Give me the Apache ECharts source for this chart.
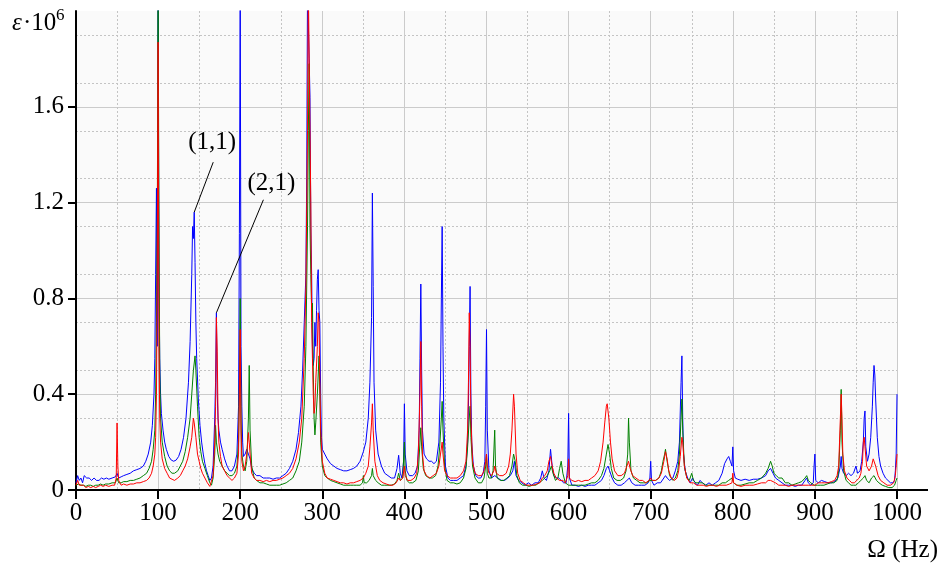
<!DOCTYPE html>
<html><head><meta charset="utf-8">
<script src="https://cdn.jsdelivr.net/npm/echarts@6/dist/echarts.min.js"></script>
<style>html,body{margin:0;padding:0;background:#fff}#c{width:941px;height:568px}</style>
</head><body><div id="c"></div>
<script>
// [frequency Hz, strain ×1e6]
const blueData = [[0,0.03],[2,0.06],[4,0.04],[6,0.05],[8,0.03],[10,0.06],[13,0.05],[16,0.05],[19,0.04],[22,0.05],[25,0.04],[28,0.04],[31,0.05],[34,0.045],[37,0.05],[40,0.045],[44,0.05],[48,0.055],[50,0.07],[52,0.05],[55,0.055],[58,0.06],[62,0.065],[66,0.07],[70,0.08],[74,0.085],[78,0.09],[82,0.1],[85,0.12],[88,0.15],[91,0.2],[93,0.27],[95,0.4],[96,0.55],[97,0.9],[98,1.26],[99,0.6],[100,2.1],[100.6,2.1],[101,0.9],[102,0.55],[103,0.4],[104,0.32],[106,0.25],[108,0.2],[110,0.17],[113,0.14],[116,0.125],[119,0.12],[122,0.125],[125,0.14],[128,0.17],[131,0.22],[134,0.3],[137,0.45],[139,0.62],[141,0.9],[142,1.1],[143,1.05],[144,1.16],[145,0.95],[146,0.7],[147,0.55],[149,0.38],[151,0.27],[153,0.2],[155,0.15],[157,0.11],[159,0.08],[161,0.06],[163,0.04],[165,0.05],[167,0.1],[169,0.3],[170,0.45],[171,0.74],[172,0.4],[173,0.3],[174,0.25],[176,0.2],[178,0.17],[181,0.13],[184,0.1],[187,0.08],[190,0.08],[193,0.1],[196,0.15],[198,0.35],[199,1.07],[200,2.1],[201,0.6],[202,0.35],[203,0.2],[204,0.14],[206,0.15],[208,0.17],[210,0.15],[212,0.13],[214,0.09],[217,0.07],[220,0.06],[224,0.06],[228,0.05],[232,0.05],[236,0.05],[240,0.045],[244,0.05],[248,0.05],[252,0.06],[256,0.07],[260,0.09],[264,0.12],[268,0.17],[271,0.24],[274,0.35],[276,0.5],[278,0.7],[280,0.9],[281,1.3],[282,2.1],[283,2.1],[284,1.8],[285,1.64],[286,1.1],[287,0.9],[288,0.6],[289,0.52],[290,0.55],[291,0.7],[292,0.6],[293,0.75],[294,0.88],[295,0.92],[296,0.75],[297,0.7],[298,0.4],[299,0.22],[300,0.17],[303,0.15],[306,0.13],[310,0.11],[314,0.1],[318,0.09],[322,0.085],[326,0.08],[330,0.08],[334,0.085],[338,0.09],[342,0.1],[346,0.12],[350,0.16],[353,0.2],[356,0.3],[358,0.45],[360,0.72],[361,1.24],[362,0.85],[363,0.45],[365,0.25],[368,0.15],[372,0.1],[376,0.07],[380,0.06],[384,0.05],[388,0.05],[391,0.09],[393,0.145],[395,0.07],[397,0.05],[399,0.12],[400,0.36],[401,0.15],[403,0.08],[406,0.06],[410,0.06],[413,0.07],[416,0.1],[418,0.25],[419,0.55],[420,0.86],[421,0.5],[422,0.25],[424,0.15],[427,0.13],[430,0.12],[433,0.12],[436,0.11],[439,0.12],[442,0.2],[444,0.45],[445,0.8],[446,1.1],[447,0.6],[448,0.3],[450,0.1],[453,0.05],[456,0.04],[460,0.04],[464,0.04],[468,0.05],[472,0.06],[475,0.1],[477,0.2],[478,0.35],[479,0.6],[480,0.85],[481,0.4],[482,0.2],[484,0.1],[487,0.06],[490,0.05],[493,0.05],[496,0.07],[498,0.12],[499,0.35],[500,0.67],[501,0.25],[503,0.08],[506,0.05],[510,0.06],[514,0.05],[518,0.04],[522,0.04],[526,0.05],[529,0.06],[532,0.08],[534,0.12],[536,0.06],[539,0.04],[543,0.03],[547,0.02],[551,0.03],[555,0.02],[559,0.03],[563,0.03],[566,0.05],[568,0.08],[570,0.05],[573,0.04],[576,0.08],[578,0.17],[580,0.1],[582,0.06],[585,0.05],[588,0.05],[591,0.04],[594,0.03],[597,0.03],[599,0.1],[600,0.32],[601,0.05],[604,0.02],[608,0.02],[612,0.015],[616,0.02],[620,0.015],[624,0.02],[628,0.02],[632,0.02],[636,0.03],[640,0.04],[643,0.06],[646,0.09],[648,0.1],[650,0.08],[653,0.05],[656,0.03],[660,0.02],[664,0.02],[668,0.03],[671,0.04],[674,0.05],[677,0.03],[681,0.02],[685,0.02],[689,0.02],[693,0.02],[697,0.03],[699,0.05],[700,0.12],[701,0.04],[704,0.02],[708,0.03],[712,0.03],[716,0.05],[718,0.06],[720,0.05],[723,0.04],[727,0.05],[730,0.08],[733,0.12],[735,0.2],[737,0.45],[738,0.56],[739,0.3],[740,0.15],[742,0.08],[745,0.05],[748,0.03],[751,0.05],[754,0.03],[757,0.02],[760,0.04],[763,0.03],[767,0.02],[771,0.03],[775,0.02],[779,0.03],[783,0.04],[787,0.07],[790,0.11],[793,0.13],[795,0.14],[797,0.12],[799,0.1],[800,0.18],[801,0.08],[803,0.05],[806,0.045],[810,0.04],[815,0.045],[820,0.04],[825,0.045],[830,0.045],[835,0.05],[840,0.06],[843,0.08],[846,0.09],[849,0.07],[852,0.05],[856,0.04],[860,0.03],[864,0.02],[868,0.02],[872,0.02],[876,0.015],[880,0.02],[884,0.02],[888,0.04],[890,0.05],[892,0.03],[895,0.02],[898,0.03],[899,0.1],[900,0.15],[901,0.04],[904,0.03],[908,0.04],[912,0.035],[916,0.03],[920,0.03],[924,0.035],[928,0.05],[931,0.1],[932,0.14],[933,0.09],[935,0.07],[938,0.06],[941,0.07],[944,0.06],[947,0.07],[950,0.1],[952,0.07],[955,0.08],[957,0.12],[959,0.2],[960,0.3],[961,0.33],[962,0.18],[964,0.12],[966,0.15],[968,0.22],[970,0.35],[971,0.45],[972,0.52],[973,0.48],[974,0.38],[976,0.22],[978,0.14],[980,0.1],[983,0.07],[986,0.05],[989,0.04],[992,0.03],[995,0.03],[997,0.04],[998,0.08],[999,0.15],[1000,0.4]];

const greenData = [[0,0.02],[3,0.025],[6,0.02],[9,0.02],[12,0.015],[15,0.02],[18,0.02],[21,0.015],[24,0.02],[27,0.02],[30,0.025],[33,0.02],[36,0.025],[40,0.025],[44,0.03],[48,0.03],[50,0.05],[52,0.03],[55,0.03],[58,0.035],[62,0.035],[66,0.04],[70,0.04],[74,0.045],[78,0.05],[82,0.06],[86,0.07],[89,0.09],[92,0.12],[94,0.17],[96,0.25],[97,0.4],[98,0.7],[99,1.1],[100,2.1],[101,1.2],[102,0.5],[103,0.3],[105,0.2],[108,0.14],[111,0.1],[114,0.08],[117,0.07],[120,0.07],[124,0.08],[127,0.1],[130,0.12],[133,0.16],[136,0.22],[139,0.3],[141,0.4],[143,0.5],[145,0.56],[146,0.5],[148,0.35],[150,0.22],[152,0.16],[154,0.12],[157,0.09],[160,0.06],[163,0.03],[165,0.02],[167,0.05],[169,0.15],[170,0.27],[171,0.2],[173,0.15],[175,0.12],[178,0.1],[181,0.08],[184,0.07],[187,0.06],[190,0.06],[193,0.07],[196,0.1],[198,0.2],[199,0.45],[200,0.8],[201,0.3],[202,0.15],[204,0.1],[206,0.08],[208,0.12],[210,0.3],[211,0.52],[212,0.25],[214,0.1],[217,0.05],[220,0.04],[224,0.03],[228,0.03],[232,0.025],[236,0.02],[240,0.02],[244,0.02],[248,0.02],[252,0.025],[256,0.03],[260,0.04],[264,0.05],[268,0.08],[272,0.12],[275,0.2],[278,0.35],[280,0.6],[282,1.1],[283,1.5],[284,1.78],[285,1.1],[286,0.9],[287,0.75],[288,0.78],[289,0.5],[290,0.3],[291,0.23],[292,0.28],[294,0.4],[296,0.56],[297,0.4],[298,0.2],[300,0.1],[303,0.06],[306,0.05],[310,0.04],[314,0.035],[318,0.03],[322,0.025],[326,0.02],[330,0.02],[334,0.02],[338,0.02],[342,0.02],[346,0.02],[349,0.03],[350,0.06],[351,0.03],[354,0.03],[357,0.04],[360,0.06],[361,0.09],[362,0.06],[365,0.04],[368,0.03],[372,0.02],[376,0.02],[380,0.02],[384,0.02],[388,0.025],[391,0.04],[393,0.07],[395,0.04],[398,0.05],[400,0.2],[401,0.08],[403,0.04],[406,0.03],[410,0.03],[414,0.04],[417,0.08],[419,0.2],[420,0.26],[421,0.18],[423,0.09],[426,0.06],[430,0.05],[434,0.05],[438,0.06],[441,0.1],[443,0.18],[445,0.3],[446,0.37],[447,0.25],[449,0.1],[452,0.04],[456,0.03],[460,0.03],[464,0.025],[468,0.03],[472,0.05],[475,0.09],[477,0.18],[479,0.3],[480,0.35],[481,0.22],[483,0.1],[486,0.05],[490,0.03],[494,0.03],[497,0.05],[499,0.1],[500,0.15],[501,0.07],[503,0.05],[506,0.05],[508,0.08],[510,0.25],[511,0.1],[513,0.05],[517,0.04],[521,0.04],[525,0.05],[528,0.06],[531,0.1],[533,0.15],[535,0.12],[537,0.06],[540,0.03],[544,0.02],[548,0.02],[552,0.015],[556,0.02],[560,0.02],[564,0.03],[568,0.04],[571,0.05],[574,0.06],[577,0.08],[579,0.1],[581,0.07],[584,0.04],[587,0.05],[589,0.09],[591,0.12],[593,0.07],[596,0.03],[600,0.02],[604,0.02],[608,0.02],[612,0.02],[616,0.02],[620,0.02],[624,0.025],[628,0.03],[632,0.03],[636,0.04],[640,0.06],[643,0.09],[646,0.15],[648,0.19],[650,0.15],[652,0.09],[655,0.05],[659,0.04],[663,0.04],[667,0.05],[670,0.08],[672,0.15],[673,0.3],[674,0.2],[676,0.08],[679,0.05],[683,0.04],[687,0.03],[691,0.03],[695,0.03],[699,0.04],[702,0.04],[706,0.04],[710,0.05],[713,0.08],[715,0.12],[717,0.15],[718,0.17],[720,0.12],[723,0.06],[727,0.04],[730,0.05],[733,0.08],[735,0.15],[737,0.3],[738,0.38],[739,0.25],[741,0.1],[744,0.05],[747,0.04],[750,0.07],[752,0.04],[755,0.03],[759,0.03],[763,0.03],[767,0.02],[771,0.02],[775,0.02],[779,0.02],[783,0.02],[787,0.03],[791,0.03],[795,0.04],[799,0.05],[801,0.03],[805,0.02],[810,0.02],[815,0.025],[820,0.03],[825,0.03],[830,0.04],[835,0.05],[840,0.07],[843,0.09],[846,0.12],[848,0.1],[850,0.07],[853,0.06],[856,0.05],[860,0.05],[864,0.03],[868,0.03],[872,0.02],[876,0.025],[880,0.03],[884,0.035],[888,0.05],[890,0.06],[892,0.04],[895,0.03],[899,0.02],[903,0.02],[907,0.02],[911,0.02],[915,0.025],[919,0.03],[923,0.03],[927,0.04],[929,0.08],[931,0.25],[932,0.42],[933,0.2],[935,0.08],[938,0.04],[941,0.03],[944,0.02],[947,0.02],[950,0.02],[953,0.03],[956,0.04],[959,0.05],[961,0.06],[963,0.04],[966,0.03],[969,0.05],[972,0.06],[975,0.04],[978,0.03],[982,0.02],[986,0.015],[990,0.01],[994,0.01],[997,0.02],[999,0.04],[1000,0.05]];

const redData = [[0,0.02],[2,0.04],[4,0.02],[6,0.015],[9,0.02],[12,0.01],[15,0.015],[18,0.01],[21,0.015],[24,0.01],[27,0.015],[30,0.02],[33,0.015],[36,0.02],[40,0.015],[44,0.02],[47,0.02],[49,0.05],[50,0.28],[51,0.1],[52,0.04],[55,0.02],[58,0.025],[62,0.02],[66,0.025],[70,0.025],[74,0.03],[78,0.03],[82,0.035],[86,0.04],[89,0.05],[92,0.07],[94,0.1],[96,0.15],[97,0.22],[98,0.4],[99,0.9],[100,1.87],[101,0.6],[102,0.3],[103,0.2],[105,0.13],[108,0.09],[111,0.07],[114,0.05],[117,0.045],[120,0.04],[124,0.05],[127,0.06],[130,0.08],[133,0.1],[136,0.13],[139,0.18],[141,0.22],[143,0.3],[144,0.28],[146,0.22],[148,0.15],[150,0.12],[152,0.09],[154,0.07],[157,0.05],[160,0.03],[163,0.015],[165,0.02],[167,0.06],[169,0.2],[170,0.35],[171,0.72],[172,0.58],[173,0.3],[174,0.2],[176,0.14],[178,0.1],[181,0.08],[184,0.06],[187,0.05],[190,0.04],[193,0.05],[196,0.07],[198,0.15],[199,0.4],[200,0.67],[201,0.25],[202,0.12],[204,0.08],[206,0.1],[208,0.15],[210,0.24],[211,0.2],[212,0.15],[214,0.07],[217,0.05],[220,0.04],[224,0.04],[228,0.035],[232,0.04],[236,0.035],[240,0.04],[244,0.04],[248,0.045],[252,0.05],[256,0.06],[260,0.07],[264,0.09],[268,0.13],[272,0.2],[275,0.3],[278,0.55],[280,0.85],[282,1.5],[283,2.1],[285,2.1],[286,1.2],[287,0.7],[288,0.55],[289,0.4],[290,0.32],[291,0.35],[292,0.45],[294,0.6],[295,0.74],[296,0.7],[297,0.45],[298,0.25],[300,0.12],[303,0.07],[306,0.05],[310,0.045],[314,0.04],[318,0.035],[322,0.03],[326,0.03],[330,0.025],[334,0.03],[338,0.03],[342,0.035],[346,0.04],[350,0.05],[353,0.07],[356,0.1],[358,0.18],[360,0.28],[361,0.36],[362,0.25],[364,0.12],[367,0.06],[370,0.04],[374,0.03],[378,0.025],[382,0.02],[386,0.02],[390,0.03],[393,0.05],[395,0.04],[398,0.05],[400,0.1],[401,0.06],[404,0.04],[408,0.04],[412,0.05],[415,0.07],[417,0.15],[419,0.4],[420,0.62],[421,0.35],[422,0.15],[424,0.08],[427,0.06],[431,0.05],[435,0.06],[439,0.07],[442,0.1],[444,0.15],[446,0.2],[447,0.15],[449,0.08],[452,0.06],[456,0.05],[460,0.05],[464,0.05],[468,0.06],[472,0.08],[475,0.12],[477,0.25],[478,0.45],[479,0.74],[480,0.6],[481,0.3],[483,0.12],[486,0.07],[490,0.06],[494,0.06],[497,0.08],[499,0.12],[500,0.15],[501,0.1],[503,0.07],[506,0.06],[509,0.08],[510,0.1],[512,0.07],[516,0.06],[520,0.06],[524,0.07],[527,0.1],[529,0.15],[531,0.25],[533,0.4],[534,0.35],[536,0.15],[538,0.07],[541,0.04],[545,0.03],[549,0.02],[553,0.02],[557,0.02],[561,0.025],[565,0.03],[568,0.05],[571,0.06],[574,0.08],[576,0.12],[578,0.14],[580,0.1],[582,0.07],[585,0.05],[589,0.04],[593,0.04],[596,0.03],[599,0.06],[600,0.13],[601,0.05],[604,0.04],[608,0.035],[612,0.04],[616,0.035],[620,0.04],[624,0.04],[628,0.05],[632,0.06],[636,0.08],[639,0.12],[642,0.2],[644,0.28],[646,0.35],[647,0.36],[649,0.3],[651,0.2],[653,0.13],[656,0.08],[660,0.06],[664,0.06],[668,0.07],[671,0.1],[673,0.12],[675,0.09],[678,0.06],[682,0.05],[686,0.04],[690,0.04],[694,0.03],[698,0.04],[700,0.05],[702,0.04],[706,0.04],[710,0.05],[713,0.07],[716,0.12],[718,0.16],[720,0.13],[722,0.08],[725,0.05],[729,0.04],[732,0.05],[734,0.08],[736,0.14],[738,0.22],[739,0.2],[741,0.1],[744,0.05],[748,0.03],[752,0.03],[756,0.02],[760,0.02],[764,0.02],[768,0.015],[772,0.02],[776,0.02],[780,0.015],[784,0.02],[788,0.02],[792,0.02],[796,0.025],[799,0.03],[800,0.07],[801,0.03],[805,0.02],[810,0.015],[815,0.02],[820,0.02],[825,0.02],[830,0.025],[835,0.03],[840,0.03],[843,0.04],[846,0.04],[849,0.035],[852,0.03],[856,0.02],[860,0.02],[864,0.02],[868,0.015],[872,0.02],[876,0.02],[880,0.02],[884,0.02],[888,0.02],[892,0.02],[896,0.02],[900,0.02],[904,0.03],[908,0.03],[912,0.03],[916,0.03],[920,0.035],[924,0.04],[927,0.06],[929,0.1],[930,0.2],[931,0.3],[932,0.4],[933,0.3],[934,0.15],[936,0.08],[939,0.05],[942,0.04],[945,0.03],[948,0.03],[951,0.04],[954,0.05],[956,0.07],[958,0.12],[959,0.2],[960,0.22],[961,0.18],[963,0.1],[966,0.08],[969,0.1],[971,0.13],[972,0.125],[974,0.1],[977,0.06],[980,0.04],[984,0.03],[988,0.02],[992,0.02],[996,0.03],[998,0.06],[999,0.1],[1000,0.15]];

const yTickValues = [0, 0.4, 0.8, 1.2, 1.6];
const annotations = [
  { label: '(1,1)', at: [144, 1.16], lineTo: [19, -50], textAt: [18, -70] },
  { label: '(2,1)', at: [171, 0.74], lineTo: [47, -113], textAt: [55, -129] }
];

const FONT = 'Liberation Serif';
const FS = 25;
const chart = echarts.init(document.getElementById('c'), null, { renderer: 'canvas' });
const gridColor = '#cbcbcb';
const minorColor = '#c4c4c4';

function lineSeries(data, color) {
  return { type: 'line', data: data, showSymbol: false, symbol: 'none', clip: true,
    lineStyle: { color: color, width: 1 }, animation: false, silent: true };
}

chart.setOption({
  animation: false,
  textStyle: { fontFamily: FONT },
  grid: { left: 76, right: 44, top: 11, bottom: 78, show: true, backgroundColor: '#fafafa', borderWidth: 0 },
  xAxis: {
    type: 'value', min: 0, max: 1000, interval: 100,
    axisLine: { show: true, lineStyle: { color: '#000', width: 2 } },
    axisTick: { show: true, length: 9, lineStyle: { color: '#000', width: 2 } },
    axisLabel: { color: '#000', fontFamily: FONT, fontSize: FS, margin: 11, formatter: v => String(v) },
    splitLine: { show: true, lineStyle: { color: gridColor, width: 1 } },
    minorTick: { show: false, splitNumber: 2 },
    minorSplitLine: { show: true, lineStyle: { color: minorColor, width: 1, type: [2, 2] } }
  },
  yAxis: {
    type: 'value', min: 0, max: 2, interval: 0.2,
    axisLine: { show: true, lineStyle: { color: '#000', width: 2 } },
    axisTick: { show: true, length: 8, customValues: yTickValues, lineStyle: { color: '#000', width: 2 } },
    axisLabel: { color: '#000', fontFamily: FONT, fontSize: FS, margin: 12, customValues: yTickValues,
      formatter: v => (v === 0 ? '0' : v.toFixed(1)) },
    splitLine: { show: true, lineStyle: { color: gridColor, width: 1 } },
    minorTick: { show: false, splitNumber: 2 },
    minorSplitLine: { show: true, lineStyle: { color: minorColor, width: 1, type: [2, 2] } }
  },
  series: [
    lineSeries(blueData, '#0000ff'),
    lineSeries(greenData, '#008000'),
    lineSeries(redData, '#ff0000')
  ]
});

const end = chart.convertToPixel({ gridIndex: 0 }, [1000, 0]);
function txt(x, y, text, opts) {
  return Object.assign({ type: 'text', x: x, y: y, z: 10,
    style: Object.assign({ text: text, fontFamily: FONT, fontSize: FS, fill: '#000', verticalAlign: 'bottom' }, opts || {}) });
}
const graphics = [
  { type: 'line', shape: { x1: end[0], y1: end[1], x2: end[0] + 31, y2: end[1] }, style: { stroke: '#000', lineWidth: 2 }, z: 10 },
  txt(12, 36, 'ε', { fontStyle: 'italic' }),
  txt(23, 36, '·10'),
  txt(56, 24, '6', { fontSize: 17 }),
  txt(938, 563, 'Ω (Hz)', { align: 'right' })
];
annotations.forEach(a => {
  const p = chart.convertToPixel({ gridIndex: 0 }, a.at);
  graphics.push({ type: 'line', shape: { x1: p[0], y1: p[1], x2: p[0] + a.lineTo[0], y2: p[1] + a.lineTo[1] },
    style: { stroke: '#000', lineWidth: 1 }, z: 10 });
  graphics.push(txt(p[0] + a.textAt[0], p[1] + a.textAt[1], a.label, { align: 'center', verticalAlign: 'middle' }));
});
chart.setOption({ graphic: graphics });
</script>
</body></html>
